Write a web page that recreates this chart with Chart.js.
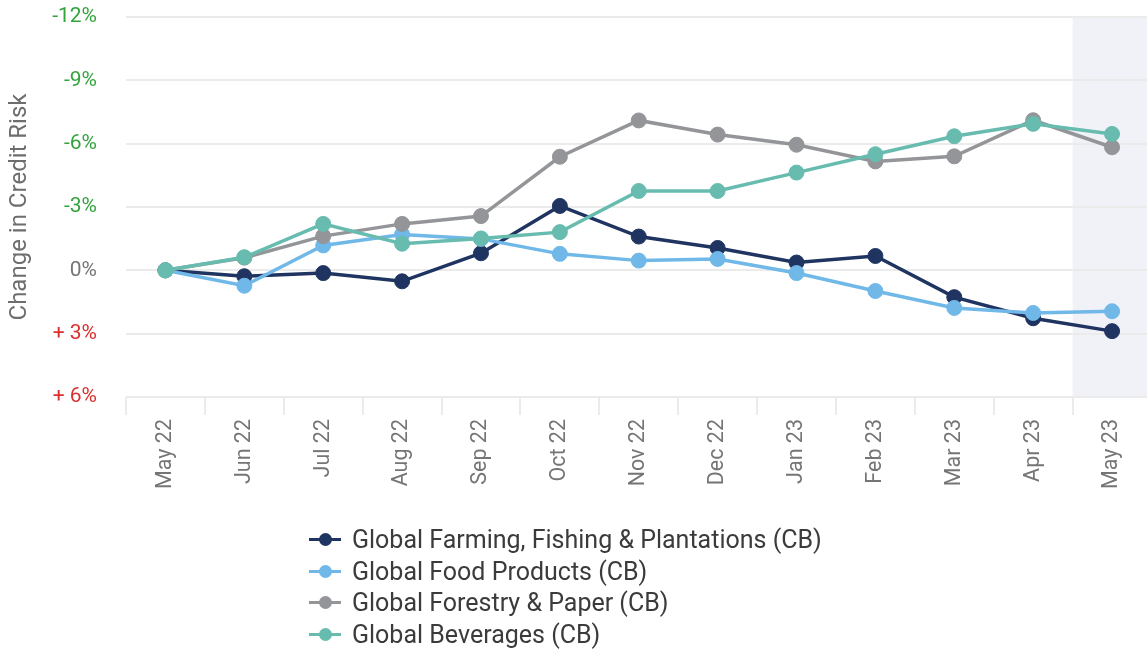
<!DOCTYPE html>
<html>
<head>
<meta charset="utf-8">
<script src="https://cdn.jsdelivr.net/npm/chart.js@4"></script>
<style>
  html, body { margin: 0; padding: 0; background: #fff; overflow: hidden; }
  #wrap { position: relative; width: 1147px; height: 650px; overflow: hidden; }
  #c { position: absolute; left: 0; top: 0; }
  #legend { position: absolute; left: 309px; top: 524px; font-family: Roboto, sans-serif; font-size: 25px; color: #3b3b3b; }
  .row { display: flex; align-items: center; height: 31.5px; white-space: nowrap; }
  .sym { position: relative; width: 32px; height: 14px; margin-right: 11px; flex: none; }
  .sym .ln { position: absolute; left: 0; right: 0; top: 5.5px; height: 3px; }
  .sym .dot { position: absolute; left: 9.5px; top: 0.5px; width: 13px; height: 13px; border-radius: 50%; }
</style>
</head>
<body>
<div id="wrap">
  <canvas id="c" width="1160" height="650"></canvas>
  <div id="legend"></div>
</div>
<script>
const categories = ["May 22","Jun 22","Jul 22","Aug 22","Sep 22","Oct 22","Nov 22","Dec 22","Jan 23","Feb 23","Mar 23","Apr 23","May 23"];
const farming   = [0, 0.28, 0.13, 0.52, -0.81, -3.05, -1.6, -1.06, -0.37, -0.68, 1.27, 2.27, 2.88];
const food      = [0, 0.73, -1.18, -1.7, -1.49, -0.78, -0.46, -0.54, 0.13, 0.98, 1.78, 2.02, 1.94];
const forestry  = [0, -0.6, -1.62, -2.2, -2.57, -5.38, -7.1, -6.43, -5.95, -5.16, -5.4, -7.11, -5.83];
const beverages = [0, -0.62, -2.2, -1.26, -1.51, -1.81, -3.76, -3.76, -4.63, -5.5, -6.35, -6.94, -6.46];
const seriesNames = ["Global Farming, Fishing & Plantations (CB)", "Global Food Products (CB)", "Global Forestry & Paper (CB)", "Global Beverages (CB)"];
const seriesColors = ["#1f3461", "#70b8e8", "#939598", "#67bcaf"];
const yTicks = [-12, -9, -6, -3, 0, 3, 6];

const seriesData = [farming, food, forestry, beverages];
const datasets = seriesData.map((d, i) => ({
  label: seriesNames[i],
  data: d,
  borderColor: seriesColors[i],
  backgroundColor: seriesColors[i],
  pointBackgroundColor: seriesColors[i],
  pointBorderColor: seriesColors[i],
  borderWidth: 3.5,
  pointRadius: 7.5,
  pointBorderWidth: 1,
  tension: 0,
  fill: false,
  order: 3 - i
}));

const bandPlugin = {
  id: 'band',
  beforeDraw(chart) {
    const {ctx, chartArea, scales} = chart;
    const x = scales.x;
    const n = categories.length;
    const left = (x.getPixelForValue(n - 2) + x.getPixelForValue(n - 1)) / 2;
    ctx.save();
    ctx.fillStyle = '#f1f2f8';
    ctx.fillRect(left, chartArea.top, chartArea.right - left + 10, chartArea.bottom - chartArea.top);
    ctx.restore();
  }
};

new Chart(document.getElementById('c'), {
  type: 'line',
  data: { labels: categories, datasets },
  plugins: [bandPlugin],
  options: {
    responsive: false,
    animation: false,
    layout: { padding: { top: 17, left: 0, right: 0, bottom: 0 } },
    plugins: { legend: { display: false }, tooltip: { enabled: false } },
    scales: {
      x: {
        offset: true,
        grid: { offset: true, drawOnChartArea: false, drawTicks: true, tickLength: 18, color: '#ebebeb', lineWidth: 2 },
        border: { display: false },
        ticks: { minRotation: 90, maxRotation: 90, padding: 4, color: '#757575', font: { family: 'Roboto', size: 21.5 }, autoSkip: false },
        afterFit(s) { s.height = 253; s.paddingLeft = 0; s.paddingRight = 0; }
      },
      y: {
        reverse: true,
        min: -12, max: 6,
        afterBuildTicks(s) { s.ticks = yTicks.map(v => ({ value: v })); },
        grid: { color: '#ebebeb', lineWidth: 2, drawTicks: false },
        border: { display: false },
        ticks: {
          padding: 29,
          font: { family: 'Roboto', size: 21 },
          color: (c) => c.tick.value < 0 ? '#33a33d' : (c.tick.value > 0 ? '#d93030' : '#757575'),
          callback: (v) => v < 0 ? v + '%' : (v > 0 ? '+ ' + v + '%' : '0%')
        },
        title: { display: true, text: 'Change in Credit Risk', color: '#6e6e6e', font: { family: 'Roboto', size: 24 }, padding: { top: 6, bottom: 0 } },
        afterFit(s) { s.width = 126; s.paddingTop = 0; s.paddingBottom = 0; }
      }
    }
  }
});

const legend = document.getElementById('legend');
seriesNames.forEach((name, i) => {
  const row = document.createElement('div');
  row.className = 'row';
  row.innerHTML = '<span class="sym"><span class="ln" style="background:' + seriesColors[i] + '"></span><span class="dot" style="background:' + seriesColors[i] + '"></span></span><span>' + name + '</span>';
  legend.appendChild(row);
});
</script>
</body>
</html>
